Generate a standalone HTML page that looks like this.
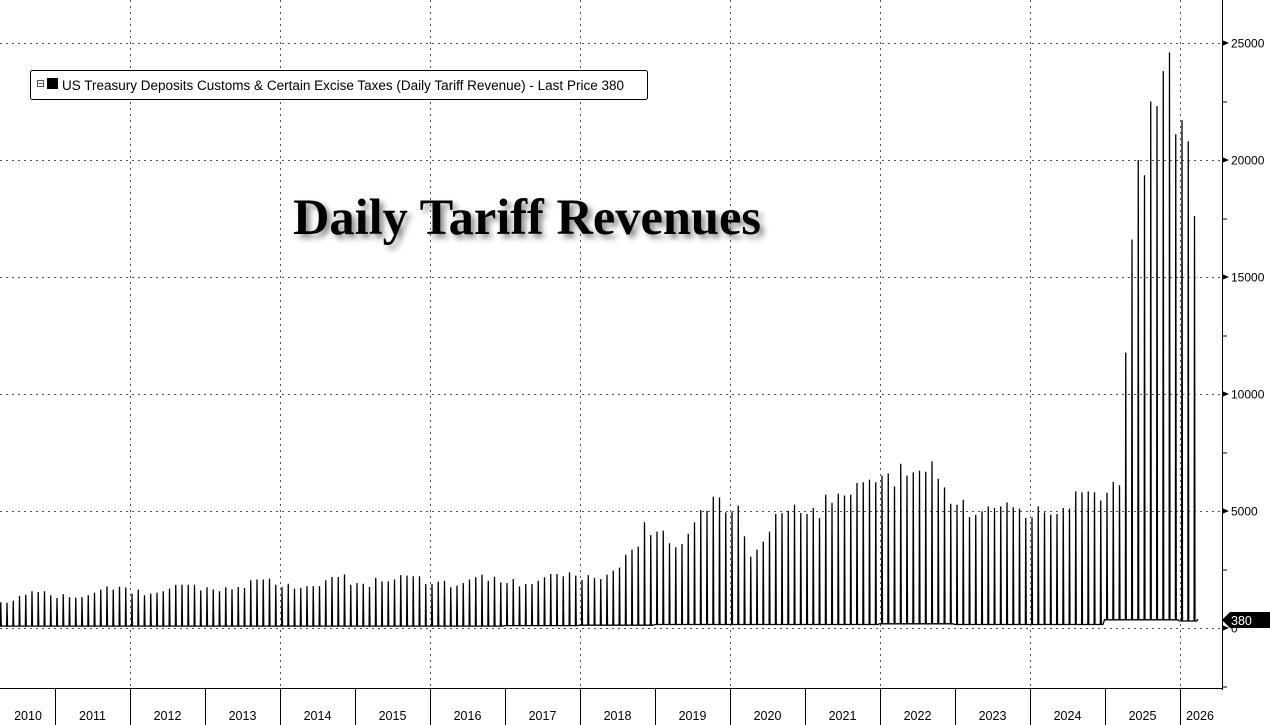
<!DOCTYPE html>
<html><head><meta charset="utf-8">
<style>
html,body{margin:0;padding:0;background:#fff;}
body{width:1270px;height:725px;overflow:hidden;position:relative;font-family:"Liberation Sans",sans-serif;}
svg{position:absolute;left:0;top:0;}
</style></head>
<body>
<svg id="chart" width="1270" height="725" viewBox="0 0 1270 725">
  <g id="grid"></g>
  <g id="series"></g>
  <g id="yaxis"></g>
  <g id="xaxis"></g>
  <g>
    <rect x="30.5" y="70.5" width="617" height="29" fill="#fff" stroke="#000" stroke-width="1" rx="2"/>
    <rect x="37.5" y="80.5" width="6" height="6" fill="#fff" stroke="#555" stroke-width="1"/>
    <line x1="38.5" y1="83.5" x2="42.5" y2="83.5" stroke="#555" stroke-width="1"/>
    <rect x="47" y="78" width="11" height="11" fill="#000"/>
    <text x="62" y="90" font-size="13.5" fill="#000">US Treasury Deposits Customs &amp; Certain Excise Taxes (Daily Tariff Revenue) - Last Price 380</text>
  </g>
  <text x="293" y="234" font-family="'Liberation Serif',serif" font-weight="bold" font-size="51" textLength="468" lengthAdjust="spacingAndGlyphs" fill="#000" style="filter:drop-shadow(4px 4px 3px rgba(0,0,0,0.45))">Daily Tariff Revenues</text>
  <g>
    <polygon points="1222,620 1230,612 1270,612 1270,628 1230,628" fill="#000"/>
    <text x="1231" y="625" font-size="12.5" fill="#fff">380</text>
  </g>
</svg>
<script>
// monthly spike peaks (thousands USD mn), Jan 2010 .. Mar 2026
const spikes2010 = [1.0,1.0,1.0,1.1,1.08,1.17,1.37,1.42,1.57,1.54,1.57,1.4];
const spikes2011 = [1.28,1.44,1.32,1.30,1.32,1.40,1.51,1.64,1.78,1.64,1.77,1.73];
const spikes2012 = [1.47,1.64,1.40,1.47,1.51,1.57,1.68,1.85,1.85,1.85,1.85,1.61];
const spikes2013 = [1.74,1.65,1.57,1.74,1.65,1.75,1.71,2.04,2.07,2.07,2.11,1.85];
const spikes2014 = [1.75,1.89,1.68,1.71,1.79,1.79,1.79,2.04,2.18,2.18,2.29,1.85];
const spikes2015 = [1.92,1.89,1.75,2.14,1.99,1.99,2.08,2.26,2.24,2.21,2.21,1.88];
const spikes2016 = [1.88,1.98,2.02,1.74,1.81,1.92,2.07,2.17,2.28,2.02,2.19,1.95];
const spikes2017 = [1.92,2.09,1.78,1.88,1.88,2.02,2.17,2.31,2.31,2.21,2.38,2.24];
const spikes2018 = [2.05,2.26,2.14,2.09,2.28,2.45,2.58,3.13,3.35,3.48,4.52,3.97];
const spikes2019 = [4.12,4.16,3.62,3.45,3.59,4.02,4.52,5.04,5.01,5.61,5.58,4.94];
const spikes2020 = [4.97,5.23,3.92,3.05,3.35,3.69,4.12,4.87,4.91,5.01,5.27,4.91];
const spikes2021 = [4.87,5.13,4.70,5.70,5.34,5.74,5.66,5.70,6.20,6.23,6.34,6.23];
const spikes2022 = [6.51,6.60,6.05,7.02,6.51,6.65,6.72,6.68,7.12,6.38,6.01,5.31];
const spikes2023 = [5.27,5.48,4.74,4.84,4.99,5.20,5.13,5.20,5.37,5.16,5.10,4.70];
const spikes2024 = [4.73,5.20,4.94,4.84,4.87,5.13,5.10,5.84,5.80,5.84,5.80,5.45];
const spikes2025 = [5.78,6.24,6.10,11.77,16.6,20.0,19.35,22.5,22.3,23.8,24.6,21.1];
const spikes2026 = [21.7,20.8,17.6];
const baseByYear = [0.08,0.08,0.08,0.08,0.08,0.08,0.08,0.1,0.12,0.15,0.15,0.15,0.18,0.15,0.15,0.35,0.3];
const lastValue = 0.38;
const yTicks = [0,5000,10000,15000,20000,25000];
const yearLabels = ["2010","2011","2012","2013","2014","2015","2016","2017","2018","2019","2020","2021","2022","2023","2024","2025","2026"];

const NS = "http://www.w3.org/2000/svg";
const allSpikes = [].concat(spikes2010,spikes2011,spikes2012,spikes2013,spikes2014,spikes2015,spikes2016,spikes2017,spikes2018,spikes2019,spikes2020,spikes2021,spikes2022,spikes2023,spikes2024,spikes2025,spikes2026);
function yScale(v){ return 628 - v*23.4/1000; }
function xMonth(i){ return -18 + i*6.25; }
function xYear(k){ return -20 + k*75; }
function mk(tag, attrs, parent){ const e=document.createElementNS(NS,tag); for(const k in attrs) e.setAttribute(k,attrs[k]); parent.appendChild(e); return e; }

const grid = document.getElementById('grid');
yTicks.forEach(t=>{
  const l = mk('line',{x1:0,x2:1222,y1:yScale(t)+0.5,y2:yScale(t)+0.5,stroke:'#555','stroke-width':1,'stroke-dasharray':'2,4'},grid);
  
  
});
for(let k=2;k<yearLabels.length;k+=2){
  const x = Math.round(xYear(k))+0.5;
  const l = mk('line',{x1:x,x2:x,y1:0,y2:688,stroke:'#555','stroke-width':1,'stroke-dasharray':'2,4'},grid);
  
  
}

let pts = [];
allSpikes.forEach((v,i)=>{
  const base = baseByYear[Math.floor(i/12)]*1000;
  const x = xMonth(i);
  pts.push([x-2.5, base]);
  pts.push([x-0.4, base]);
  pts.push([x, v*1000]);
  pts.push([x+0.5, base]);
  pts.push([x+2.2, base]);
});
pts.push([xMonth(allSpikes.length-1)+3.5, lastValue*1000]);
const d = pts.map((p,j)=>(j?'L':'M')+p[0].toFixed(2)+','+yScale(p[1]).toFixed(2)).join(' ');
const path = mk('path',{d:d,fill:'none',stroke:'#000','stroke-width':1.3,'stroke-linejoin':'miter'},document.getElementById('series'));



const ya = document.getElementById('yaxis');
mk('line',{x1:1222.5,x2:1222.5,y1:0,y2:690,stroke:'#000','stroke-width':1},ya);
for(let v=-2500; v<=25000; v+=2500){
  mk('line',{x1:1222,x2:1227,y1:yScale(v)+0.5,y2:yScale(v)+0.5,stroke:'#000','stroke-width':1},ya);
}
yTicks.forEach(t=>{
  const y = yScale(t);
  mk('polygon',{points:`1222,${y-3} 1229,${y} 1222,${y+3}`,fill:'#000'},ya);
  const tx = mk('text',{x:1231,y:y+4.5,'font-size':12,fill:'#000'},ya);
  tx.textContent = String(t);
  
  
});

const xa = document.getElementById('xaxis');
mk('line',{x1:0,x2:1222,y1:688.5,y2:688.5,stroke:'#000','stroke-width':1},xa);
yearLabels.forEach((lab,k)=>{
  const x0 = xYear(k), x1 = xYear(k+1);
  if(k>0){ mk('line',{x1:Math.round(x0)+0.5,x2:Math.round(x0)+0.5,y1:688,y2:725,stroke:'#000','stroke-width':1},xa); }
  const cx = k===0 ? 28 : (k===16 ? 1200 : (x0+x1)/2);
  const t = mk('text',{x:cx,y:720,'font-size':12.5,'text-anchor':'middle',fill:'#000'},xa);
  t.textContent = lab;
  
  
});
</script>
</body></html>
